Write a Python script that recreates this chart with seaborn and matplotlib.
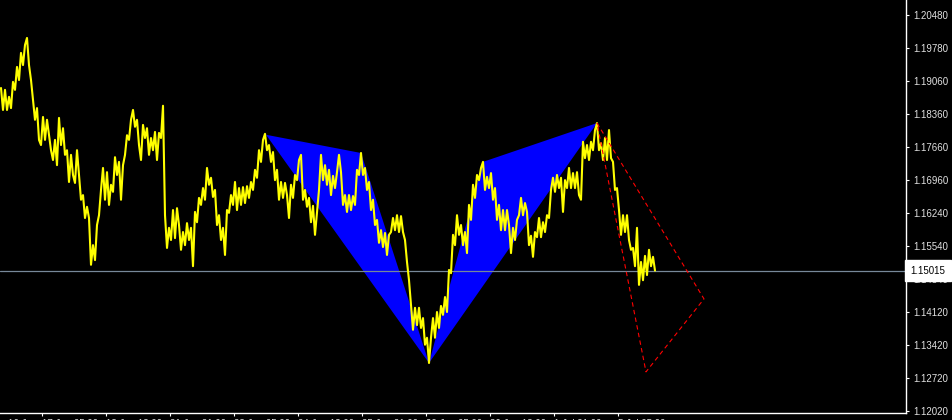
import numpy as np
import pandas as pd
import matplotlib
matplotlib.use("Agg")
import matplotlib.pyplot as plt
import matplotlib.transforms as mtransforms
import seaborn as sns

# MT4 style black chart
BG = '#000000'
LINE_COLOR = '#FFFF00'
PATTERN_COLOR = '#0000FF'
PROJ_COLOR = '#FF0000'
BID_COLOR = '#778899'
AXIS_COLOR = '#FFFFFF'

# close price per bar
prices = [
    1.1892, 1.1845, 1.1888, 1.1845, 1.1873, 1.1849, 1.1905, 1.1888, 1.1937, 1.1909,
    1.1967, 1.1941, 1.1984, 1.1999, 1.1941, 1.1909, 1.1866, 1.1824, 1.1849, 1.1781,
    1.1770, 1.1830, 1.1781, 1.1824, 1.1791, 1.1759, 1.1738, 1.1781, 1.1727, 1.1828,
    1.1770, 1.1806, 1.1749, 1.1759, 1.1691, 1.1749, 1.1706, 1.1689, 1.1759, 1.1706,
    1.1653, 1.1663, 1.1614, 1.1638, 1.1614, 1.1514, 1.1556, 1.1524, 1.1599, 1.1620,
    1.1674, 1.1721, 1.1653, 1.1712, 1.1642, 1.1685, 1.1670, 1.1744, 1.1706, 1.1734,
    1.1653, 1.1727, 1.1749, 1.1791, 1.1781, 1.1824, 1.1845, 1.1809, 1.1824, 1.1770,
    1.1738, 1.1813, 1.1785, 1.1806, 1.1749, 1.1785, 1.1759, 1.1798, 1.1738, 1.1796,
    1.1785, 1.1854, 1.1620, 1.1550, 1.1593, 1.1567, 1.1631, 1.1571, 1.1635, 1.1599,
    1.1546, 1.1584, 1.1556, 1.1603, 1.1567, 1.1593, 1.1511, 1.1627, 1.1605, 1.1657,
    1.1642, 1.1678, 1.1653, 1.1721, 1.1685, 1.1700, 1.1659, 1.1674, 1.1599, 1.1620,
    1.1567, 1.1593, 1.1535, 1.1631, 1.1625, 1.1663, 1.1642, 1.1691, 1.1631, 1.1678,
    1.1642, 1.1680, 1.1646, 1.1682, 1.1657, 1.1691, 1.1674, 1.1717, 1.1700, 1.1759,
    1.1734, 1.1781, 1.1794, 1.1759, 1.1770, 1.1734, 1.1755, 1.1695, 1.1717, 1.1653,
    1.1691, 1.1657, 1.1689, 1.1663, 1.1614, 1.1685, 1.1657, 1.1706, 1.1695, 1.1738,
    1.1749, 1.1653, 1.1674, 1.1638, 1.1657, 1.1605, 1.1640, 1.1578, 1.1627, 1.1674,
    1.1749, 1.1695, 1.1727, 1.1685, 1.1717, 1.1663, 1.1704, 1.1678, 1.1712, 1.1749,
    1.1712, 1.1642, 1.1663, 1.1627, 1.1663, 1.1631, 1.1661, 1.1642, 1.1717, 1.1706,
    1.1753, 1.1706, 1.1721, 1.1674, 1.1691, 1.1631, 1.1653, 1.1599, 1.1610, 1.1561,
    1.1588, 1.1552, 1.1582, 1.1535, 1.1578, 1.1584, 1.1614, 1.1588, 1.1620, 1.1584,
    1.1618, 1.1584, 1.1567, 1.1520, 1.1481, 1.1428, 1.1375, 1.1422, 1.1385, 1.1422,
    1.1379, 1.1400, 1.1343, 1.1358, 1.1304, 1.1358, 1.1400, 1.1358, 1.1413, 1.1379,
    1.1426, 1.1407, 1.1445, 1.1413, 1.1503, 1.1496, 1.1578, 1.1556, 1.1620, 1.1578,
    1.1599, 1.1556, 1.1584, 1.1539, 1.1642, 1.1610, 1.1685, 1.1657, 1.1706, 1.1695,
    1.1721, 1.1734, 1.1674, 1.1702, 1.1678, 1.1710, 1.1653, 1.1678, 1.1610, 1.1642,
    1.1588, 1.1631, 1.1588, 1.1631, 1.1599, 1.1539, 1.1593, 1.1567, 1.1610, 1.1620,
    1.1657, 1.1620, 1.1646, 1.1627, 1.1556, 1.1576, 1.1531, 1.1584, 1.1573, 1.1614,
    1.1573, 1.1605, 1.1584, 1.1620, 1.1614, 1.1674, 1.1700, 1.1670, 1.1706, 1.1678,
    1.1700, 1.1627, 1.1695, 1.1678, 1.1721, 1.1678, 1.1710, 1.1678, 1.1712, 1.1663,
    1.1653, 1.1777, 1.1742, 1.1770, 1.1738, 1.1777, 1.1759, 1.1802, 1.1817, 1.1759,
    1.1774, 1.1738, 1.1785, 1.1738, 1.1802, 1.1742, 1.1734, 1.1674, 1.1678, 1.1631,
    1.1578, 1.1620, 1.1584, 1.1620, 1.1567, 1.1546, 1.1550, 1.1511, 1.1593, 1.1471,
    1.1520, 1.1481, 1.1533, 1.1492, 1.1546, 1.1511, 1.1531, 1.15015,
]

# harmonic pattern pivots X, A, B, C, D
pivot_bars = [132.5, 180, 214, 241, 298]
pivot_prices = [1.1792, 1.1753, 1.1304, 1.1734, 1.1817]

# projected target zone (red dashed)
proj_bars = [298, 351.5, 322.5]
proj_prices = [1.1817, 1.1441, 1.1285]

bid_price = 1.15015

price_ticks = [1.20480, 1.19780, 1.19060, 1.18360, 1.17660, 1.16960, 1.16240,
               1.15540, 1.14840, 1.14120, 1.13420, 1.12720, 1.12020]

time_ticks = [3.5, 20.5, 52.5, 84.5, 116.5, 148.5, 180.5, 212.5, 244.5, 276.5, 308.5]
time_labels = ['16 Jun', '17 Jun 05:00', '18 Jun 13:00', '21 Jun 21:00',
               '23 Jun 05:00', '24 Jun 13:00', '25 Jun 21:00', '29 Jun 05:00',
               '30 Jun 13:00', '1 Jul 21:00', '5 Jul 05:00']

sns.set_theme(style="dark")
plt.rcParams['font.family'] = ['Liberation Sans', 'DejaVu Sans']

fig = plt.figure(figsize=(9.53, 4.2), dpi=100, facecolor=BG)
ax = fig.add_axes([0, 7 / 420, 906 / 953, 413 / 420])
ax.set_facecolor(BG)

df = pd.DataFrame({'bar': np.arange(len(prices)), 'price': prices})

# pattern triangles XAB and BCD
ax.fill(pivot_bars[0:3], pivot_prices[0:3], color=PATTERN_COLOR, lw=0, zorder=1)
ax.fill(pivot_bars[2:5], pivot_prices[2:5], color=PATTERN_COLOR, lw=0, zorder=1)

ax.axhline(bid_price, color=BID_COLOR, lw=0.9, zorder=2)

sns.lineplot(data=df, x='bar', y='price', color=LINE_COLOR, lw=1.5,
             estimator=None, sort=False, ax=ax, zorder=3)

ax.plot(proj_bars + proj_bars[:1], proj_prices + proj_prices[:1],
        color=PROJ_COLOR, lw=0.8, dashes=(4, 3), zorder=4)

ax.set_xlim(-0.5, 452.5)
ax.set_ylim(1.11971, 1.20801)
ax.set_xlabel('')
ax.set_ylabel('')
ax.grid(False)

for side in ['left', 'top']:
    ax.spines[side].set_visible(False)
for side in ['right', 'bottom']:
    ax.spines[side].set_visible(True)
    ax.spines[side].set_color(AXIS_COLOR)
    ax.spines[side].set_linewidth(1.0)

ax.yaxis.tick_right()
ax.set_yticks(price_ticks)
ax.set_yticklabels([f'{p:.5f}' for p in price_ticks])
ax.tick_params(axis='y', which='both', right=True, left=False, direction='out',
               length=2.5, width=0.8, color=AXIS_COLOR, labelcolor='#E0E0E0',
               labelsize=7, pad=2.5)

ax.set_xticks(time_ticks)
ax.set_xticklabels(time_labels)
ax.tick_params(axis='x', which='both', bottom=True, direction='out', length=2.5,
               width=0.8, color=AXIS_COLOR, labelcolor='#E0E0E0', labelsize=7, pad=1.5)
for lbl in ax.get_xticklabels():
    lbl.set_ha('left')
ax.xaxis.get_major_ticks()[0].tick1line.set_visible(False)

# current bid label on the price scale
trans = mtransforms.blended_transform_factory(ax.transAxes, ax.transData)
ax.text(1.005, bid_price, f'{bid_price:.5f}', transform=trans, ha='left', va='center',
        fontsize=7, color='black', clip_on=False, zorder=10,
        bbox=dict(facecolor='white', edgecolor='white', pad=0.6, boxstyle='square'))

fig.savefig('out.png', dpi=100, facecolor=BG)
plt.close(fig)
